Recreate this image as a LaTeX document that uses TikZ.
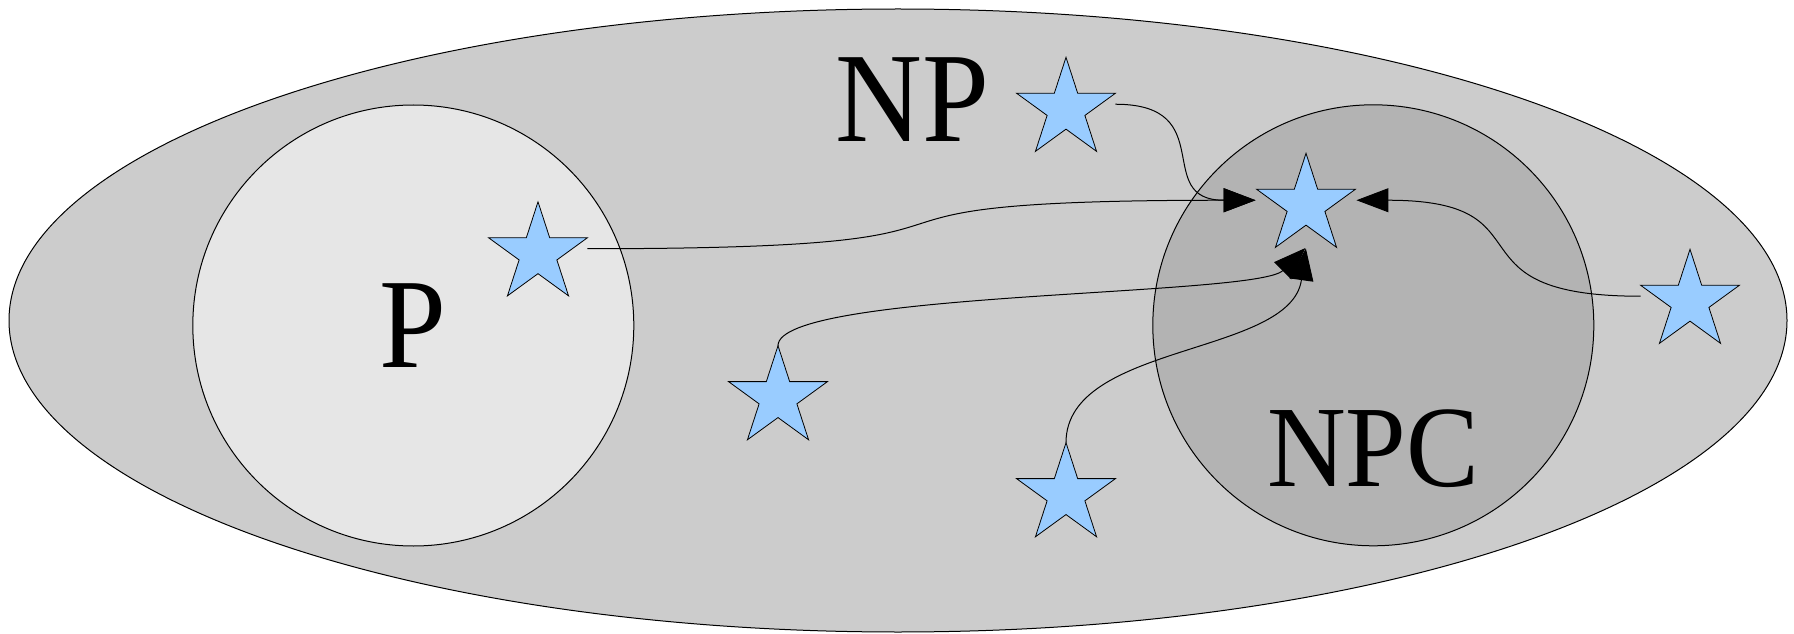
\documentclass[tikz,border=0pt]{standalone}
\usepackage{fontspec}
\setmainfont{Liberation Serif}
\newfontfamily\classfont[FakeStretch=0.94]{Liberation Serif}
\usetikzlibrary{positioning,shapes.geometric,arrows.meta}

\definecolor{npgray}{HTML}{CCCCCC}
\definecolor{pgray}{HTML}{E6E6E6}
\definecolor{npcgray}{HTML}{B3B3B3}
\definecolor{starblue}{HTML}{99CCFF}

\begin{document}
\begin{tikzpicture}[x=1pt,y=1pt,shorten >=1pt,line width=1pt,
    >={Triangle[length=32pt,width=24pt]},
    set/.style={draw,inner sep=0pt,outer sep=0pt},
    problem/.style={star,star points=5,star point ratio=2.618,minimum size=104pt,
                    inner sep=0pt,outer sep=0pt,draw,line width=0.8pt,fill=starblue},
    classname/.style={inner sep=0pt,font=\classfont\fontsize{128}{128}\selectfont}]
    \useasboundingbox (0,0) rectangle (1794,633);
    \node[set,ellipse,fill=npgray,minimum width=1778pt,minimum height=623pt] (NP) at (898,312.5) {};
    \node[set,circle,fill=pgray,minimum size=441pt]   (P)   at (413.3,307.5)  {};
    \node[set,circle,fill=npcgray,minimum size=441pt] (NPC) at (1373.3,307.7) {};
    \node[classname] (p_name)   at (P.center)    {P};
    \node[classname] (np_name)  at (912.7,533)   {NP};
    \node[classname,font=\classfont\fontsize{116}{116}\selectfont] (npc_name) at (1373.3,184) {NPC};
    \node[problem] (q_p)  at (538,379.2)  {};
    \node[problem] (q_np) at (1066,523.7) {};
    \node[problem] (q_h)  at (1306,427.7) {};
    \node[problem] (q_1)  at (778,235.3)  {};
    \node[problem] (q_2)  at (1066,138.3) {};
    \node[problem] (q_3)  at (1690,331.7) {};
    \draw[->] ([yshift=-11pt]q_np.outer point 5) to[out=0,in=180,distance=105pt] ([yshift=-11pt]q_h.outer point 2);
    \draw[->] ([yshift=-11pt]q_p.outer point 5)  to[out=0,in=180,distance=500pt] ([yshift=-11pt]q_h.outer point 2);
    \draw[->] (q_1.outer point 1) to[out=90,in=225,out distance=55pt,in distance=70pt] (q_h.outer point 3 -| q_h.center);
    \draw[->] (q_2.outer point 1) to[out=90,in=262,out distance=100pt,in distance=110pt] (q_h.outer point 3 -| q_h.center);
    \draw[->] ([yshift=-11pt]q_3.outer point 2)  to[out=180,in=0,distance=200pt] ([yshift=-11pt]q_h.outer point 5);
\end{tikzpicture}
\end{document}
